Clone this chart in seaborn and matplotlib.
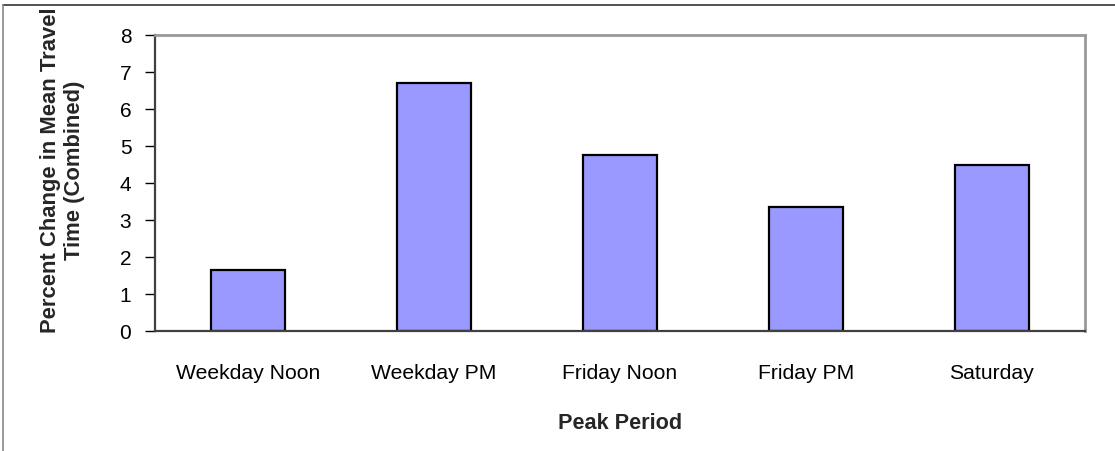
import numpy as np
import pandas as pd
import matplotlib
matplotlib.use('Agg')
import matplotlib.pyplot as plt
from matplotlib.lines import Line2D
import seaborn as sns

# Data
periods = ["Weekday Noon", "Weekday PM", "Friday Noon", "Friday PM", "Saturday"]
pct_change = [1.64, 6.69, 4.74, 3.34, 4.48]
y_ticks = [0, 1, 2, 3, 4, 5, 6, 7, 8]

BAR_COLOR = "#9999FF"

sns.set_theme(style="white")
plt.rcParams['font.family'] = ['Liberation Sans', 'DejaVu Sans']

df = pd.DataFrame({"period": periods, "pct": pct_change})

fig = plt.figure(figsize=(11.15, 4.52), dpi=100)
ax = fig.add_axes([0.139, 0.266, 0.834, 0.655])

sns.barplot(data=df, x="period", y="pct", order=periods, color=BAR_COLOR,
            saturation=1, width=0.4, edgecolor="black", linewidth=1.6, ax=ax)

# Axis range and ticks (Excel style: x ticks between categories)
ax.set_xlim(-0.5, len(periods) - 0.5)
ax.set_ylim(0, 8)
ax.set_yticks(y_ticks)
ax.set_yticklabels([str(t) for t in y_ticks], fontsize=15)
ax.set_xticks(np.arange(len(periods)))
ax.set_xticklabels(periods, fontsize=15.2)
ax.set_xticks(np.arange(-0.5, len(periods), 1), minor=True)
ax.tick_params(axis="x", which="major", length=0, pad=23)
ax.tick_params(axis="x", which="minor", length=6, width=1, color="#404040", direction="out")
ax.tick_params(axis="y", which="major", length=7, width=1, color="#404040", direction="out", pad=10, left=True)
ax.tick_params(colors="black", labelcolor="black", which="both")

for side in ["left", "bottom"]:
    ax.spines[side].set_color("#404040")
    ax.spines[side].set_linewidth(1.6)
for side in ["top", "right"]:
    ax.spines[side].set_visible(True)
    ax.spines[side].set_color("#999999")
    ax.spines[side].set_linewidth(2)

ax.set_xlabel("")
ax.set_ylabel("")
fig.text(0.5565, 0.064, "Peak Period", ha="center", va="center",
         fontsize=15.6, fontweight="bold")
fig.text(0.056, 1 - 170 / 452, "Percent Change in Mean Travel\nTime (Combined)",
         rotation=90, ha="center", va="center", multialignment="center",
         fontsize=15.8, fontweight="bold", linespacing=1.15)

# Outer chart frame (top and left edges are visible in the reference)
fig.add_artist(Line2D([3 / 1115, 1.0], [1 - 6 / 452, 1 - 6 / 452], color="#333333", lw=1.2))
fig.add_artist(Line2D([3 / 1115, 3 / 1115], [0.0, 1 - 6 / 452], color="#888888", lw=1.2))

fig.savefig("out.png", dpi=100)
plt.close(fig)
